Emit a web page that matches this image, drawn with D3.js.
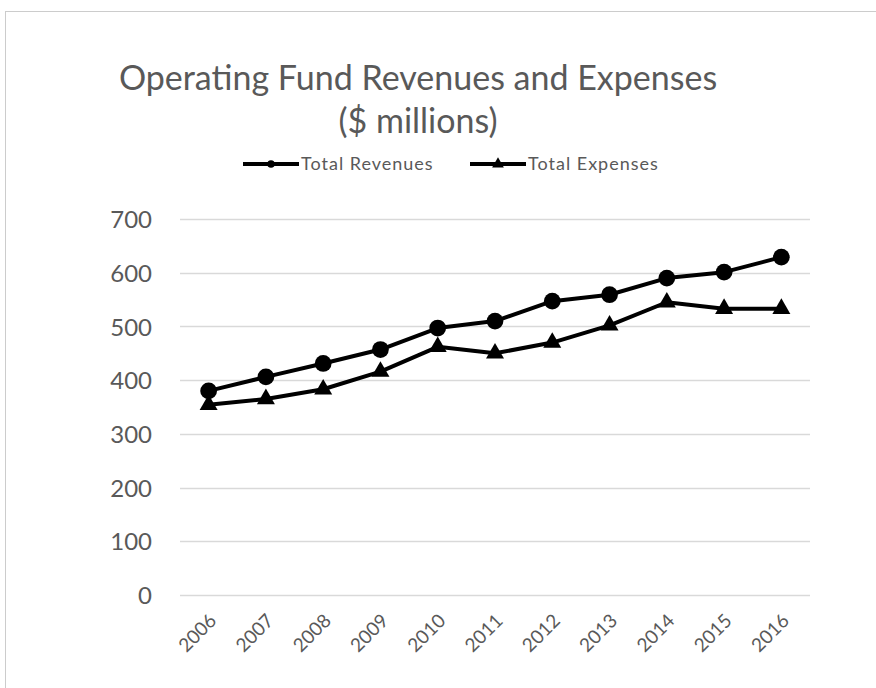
<!DOCTYPE html>
<html>
<head>
<meta charset="utf-8">
<script src="https://cdnjs.cloudflare.com/ajax/libs/d3/7.8.5/d3.min.js"></script>
<style>
  body { margin: 0; background: #fff; }
  text { font-family: Lato, "Open Sans", sans-serif; fill: #595959; }
</style>
</head>
<body>
<script>
var years = ['2006', '2007', '2008', '2009', '2010', '2011', '2012', '2013', '2014', '2015', '2016'];
var revenues = [380, 406, 431, 457, 497, 510, 547, 559, 590, 601, 629];
var expenses = [354, 365, 383, 416, 462, 450, 470, 502, 545, 533, 533];
var yTicks = [0, 100, 200, 300, 400, 500, 600, 700];
var seriesNames = ['Total Revenues', 'Total Expenses'];

const w = 876;
const h = 688;
const plotLeft = 180, plotRight = 810, plotTop = 219, plotBottom = 595;

var svg = d3.select('body')
  .append('svg')
  .attr('width', w)
  .attr('height', h)

// chart border
svg.append('rect')
  .attr('x', 5.5)
  .attr('y', 11.5)
  .attr('width', w + 10)
  .attr('height', h + 10)
  .attr('fill', 'none')
  .attr('stroke', '#cccccc')

var xScale = d3.scaleBand()
  .domain(years)
  .range([plotLeft, plotRight])

var yScale = d3.scaleLinear()
  .domain([0, 700])
  .range([plotBottom, plotTop])

// gridlines
svg.append('g')
  .selectAll('line')
  .data(yTicks)
  .enter()
  .append('line')
  .attr('x1', plotLeft)
  .attr('x2', plotRight)
  .attr('y1', d => Math.round(yScale(d)) + 0.5)
  .attr('y2', d => Math.round(yScale(d)) + 0.5)
  .attr('stroke', '#d9d9d9')
  .attr('stroke-width', 1.3)

var yAxis = d3.axisLeft(yScale).tickValues(yTicks).tickSize(0).tickPadding(0)
var gy = svg.append('g')
  .attr('transform', 'translate(152,0)')
  .call(yAxis)
gy.select('.domain').remove()
gy.selectAll('text')
  .style('font-size', '24px')
  .attr('dy', '0.36em')

var xAxis = d3.axisBottom(xScale).tickSize(0)
var gx = svg.append('g')
  .attr('transform', 'translate(0,' + plotBottom + ')')
  .call(xAxis)
gx.select('.domain').remove()
gx.selectAll('text')
  .style('font-size', '19px')
  .attr('text-anchor', 'end')
  .attr('dy', 0)
  .attr('y', 0)
  .attr('transform', 'translate(9,27)rotate(-45)')

var line = d3.line()
  .x((d, i) => xScale(years[i]) + xScale.bandwidth() / 2)
  .y(d => yScale(d))

function drawSeries(values, symbol, size) {
  svg.append('path')
    .datum(values)
    .attr('d', line)
    .attr('fill', 'none')
    .attr('stroke', '#000')
    .attr('stroke-width', 4)
    .attr('stroke-linejoin', 'round')

  svg.append('g')
    .selectAll('path')
    .data(values)
    .enter()
    .append('path')
    .attr('d', d3.symbol().type(symbol).size(size))
    .attr('transform', (d, i) => 'translate(' + (xScale(years[i]) + xScale.bandwidth() / 2) + ',' + yScale(d) + ')')
    .attr('fill', '#000')
}

drawSeries(revenues, d3.symbolCircle, 220)
drawSeries(expenses, d3.symbolTriangle, 140)

// title
svg.append('text')
  .attr('x', 418)
  .attr('y', 90)
  .attr('text-anchor', 'middle')
  .style('font-size', '34px')
  .text('Operating Fund Revenues and Expenses')

svg.append('text')
  .attr('x', 418)
  .attr('y', 133)
  .attr('text-anchor', 'middle')
  .style('font-size', '34px')
  .text('($ millions)')

// legend
var legendX = [243, 470];
var legendSym = [d3.symbolCircle, d3.symbolTriangle];
var legend = svg.append('g')
  .selectAll('g')
  .data(seriesNames)
  .enter()
  .append('g')
  .attr('transform', (d, i) => 'translate(' + legendX[i] + ',164)')

legend.append('line')
  .attr('x1', 0)
  .attr('x2', 56)
  .attr('stroke', '#000')
  .attr('stroke-width', 4)

legend.append('path')
  .attr('d', (d, i) => d3.symbol().type(legendSym[i]).size(i ? 60 : 45)())
  .attr('transform', 'translate(28,0)')
  .attr('fill', '#000')

legend.append('text')
  .attr('x', 58)
  .attr('y', 0)
  .attr('dy', '0.35em')
  .style('font-size', '18px')
  .style('letter-spacing', '1px')
  .text(d => d)
</script>
</body>
</html>
